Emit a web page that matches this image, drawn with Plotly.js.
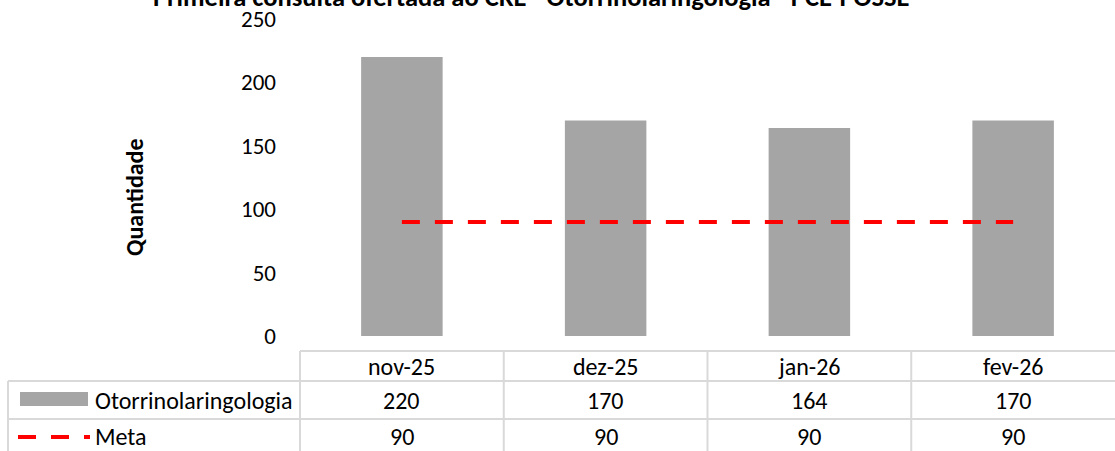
<!DOCTYPE html>
<html>
<head>
<meta charset="utf-8">
<script src="https://cdn.plot.ly/plotly-3.0.1.min.js"></script>
<style>
  html, body { margin: 0; padding: 0; background: #fff; }
  #plot { width: 1115px; height: 451px; }
</style>
</head>
<body>
<div id="plot"></div>
<script>
// dados do grafico
var meses = ["nov-25", "dez-25", "jan-26", "fev-26"];
var otorrino = [220, 170, 164, 170];
var meta = [90, 90, 90, 90];
var nomeSerie = "Otorrinolaringologia";
var nomeMeta = "Meta";

var FONT = "Carlito, Lato, 'Open Sans', sans-serif";
var GRID = "#d9d9d9";

// plot area: x 300..1115, y 19..336 (pixels)
var L = 300, W = 815, B = 336, H = 317;
function px(x) { return (x - L) / W; }
function py(y) { return (B - y) / H; }

var trace1 = {
    x: meses,
    y: otorrino,
    name: nomeSerie,
    type: "bar",
    width: 0.4,
    marker: { color: "#a5a5a5" },
    hoverinfo: "x+y"
};

var trace2 = {
    x: meses,
    y: meta,
    name: nomeMeta,
    type: "scatter",
    mode: "lines",
    line: { color: "#ff0000", width: 4, dash: "18px,15px" },
    hoverinfo: "x+y"
};

// table lines
var shapes = [];
function hline(x0, x1, y) {
    shapes.push({ type: "line", xref: "paper", yref: "paper",
        x0: px(x0), x1: px(x1), y0: py(y), y1: py(y),
        line: { color: GRID, width: 2 } });
}
function vline(x, y0, y1) {
    shapes.push({ type: "line", xref: "paper", yref: "paper",
        x0: px(x), x1: px(x), y0: py(y0), y1: py(y1),
        line: { color: GRID, width: 2 } });
}
hline(300, 1115, 351);
hline(8, 1115, 381);
hline(8, 1115, 419);
vline(8, 381, 451);
for (var i = 0; i < meses.length; i++) {
    vline(L + i * W / meses.length, 351, 451);
}

// legend keys inside the table
shapes.push({ type: "rect", xref: "paper", yref: "paper",
    x0: px(20), x1: px(88), y0: py(392), y1: py(406),
    fillcolor: "#a5a5a5", line: { width: 0 } });
shapes.push({ type: "line", xref: "paper", yref: "paper",
    x0: px(18), x1: px(90), y0: py(437), y1: py(437),
    line: { color: "#ff0000", width: 4, dash: "18px,15px" } });

var annotations = [];
function label(x, xref, y, text, extra) {
    var a = { x: x, xref: xref, y: y, yref: "paper", text: text,
        xanchor: "center", yanchor: "middle",
        showarrow: false, font: { family: FONT, size: 24, color: "#000" } };
    for (var k in extra) a[k] = extra[k];
    annotations.push(a);
}
meses.forEach(function (m, i) {
    label(m, "x", py(366), m, {});
    label(m, "x", py(400), String(otorrino[i]), {});
    label(m, "x", py(436), String(meta[i]), {});
});
label(px(93), "paper", py(400), nomeSerie, { xanchor: "left" });
label(px(93), "paper", py(436), nomeMeta, { xanchor: "left" });

// y axis title
annotations.push({ x: px(134), xref: "paper", y: py(197), yref: "paper",
    xanchor: "center", yanchor: "middle",
    text: "<b>Quantidade</b>", textangle: -90, showarrow: false,
    font: { family: FONT, size: 24, color: "#000" } });

// chart title (cut at the top, as in the original)
annotations.push({ x: px(531), xref: "paper", y: py(-3), yref: "paper",
    xanchor: "center", yanchor: "middle",
    text: "<b>Primeira consulta ofertada ao CRE - Otorrinolaringologia - PCE-POSSE</b>",
    showarrow: false, font: { family: FONT, size: 26.5, color: "#000" } });

var data = [trace1, trace2];

var layout = {
    width: 1115,
    height: 451,
    margin: { l: 300, r: 0, t: 19, b: 115, pad: 0 },
    paper_bgcolor: "#fff",
    plot_bgcolor: "#fff",
    showlegend: false,
    font: { family: FONT, size: 23, color: "#000" },
    xaxis: {
        type: "category",
        range: [-0.5, 3.5],
        showticklabels: false,
        showgrid: false,
        showline: false,
        zeroline: false,
        ticks: ""
    },
    yaxis: {
        range: [0, 250],
        dtick: 50,
        showgrid: false,
        showline: false,
        zeroline: false,
        ticks: "",
        ticklabelstandoff: 23,
        tickfont: { family: FONT, size: 23, color: "#000" }
    },
    shapes: shapes,
    annotations: annotations
};

Plotly.newPlot("plot", data, layout, { displayModeBar: false, staticPlot: true });
</script>
</body>
</html>
